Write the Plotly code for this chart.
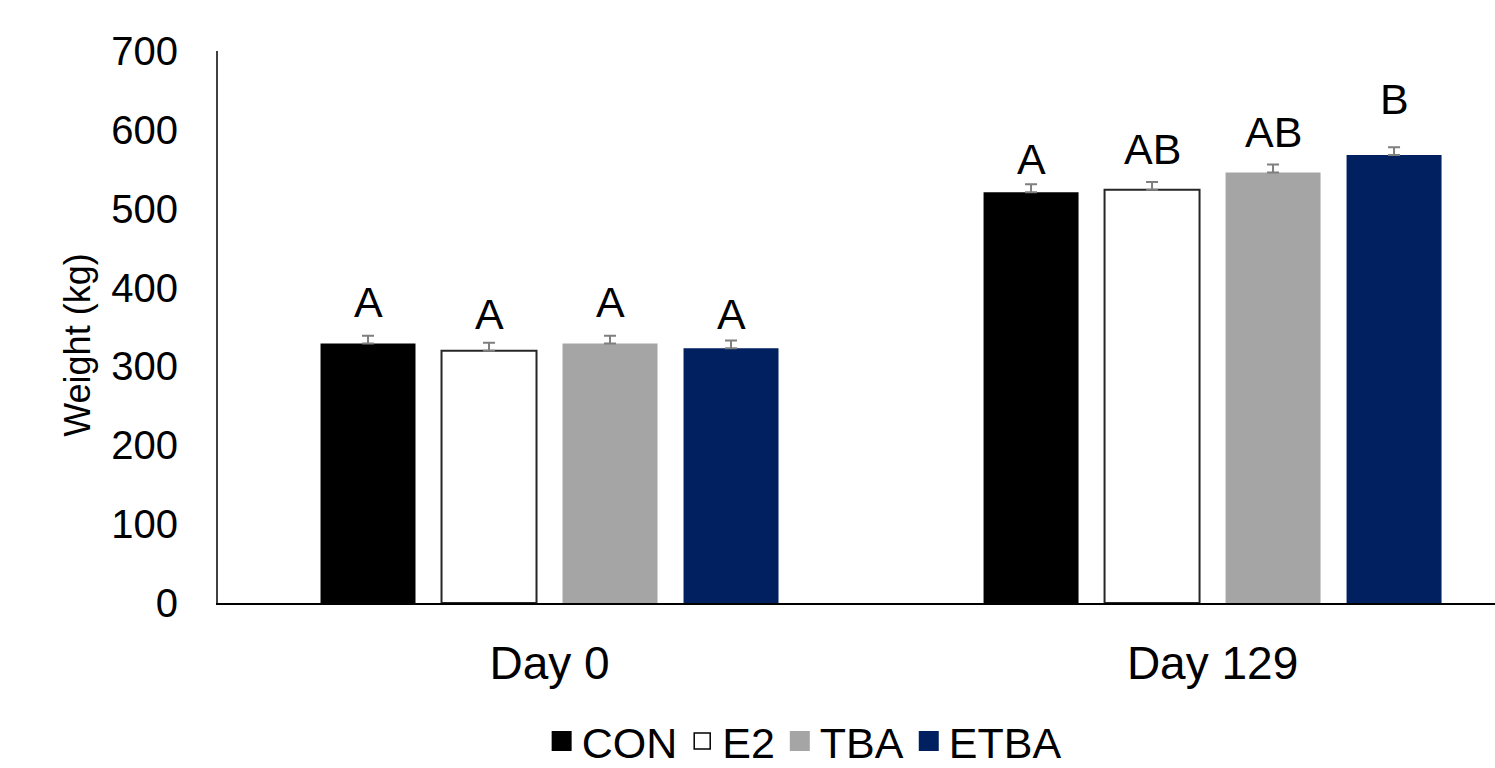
import plotly.graph_objects as go

days = ["Day 0", "Day 129"]
treatments = ["CON", "E2", "TBA", "ETBA"]
weights = {
    "CON": [329, 521],
    "E2": [320, 524],
    "TBA": [329, 546],
    "ETBA": [323, 568],
}
sem = {
    "CON": [10, 10],
    "E2": [10, 10],
    "TBA": [10, 10],
    "ETBA": [10, 10],
}
letters = {
    "CON": ["A", "A"],
    "E2": ["A", "AB"],
    "TBA": ["A", "AB"],
    "ETBA": ["A", "B"],
}
# height (kg) at which each significance letter sits
letter_height = {
    "CON": [358, 539],
    "E2": [343, 552],
    "TBA": [358, 573],
    "ETBA": [343, 615],
}

fill = {"CON": "#000000", "E2": "#ffffff", "TBA": "#a5a5a5", "ETBA": "#002060"}
outline = {"CON": "#000000", "E2": "#262626", "TBA": "#a5a5a5", "ETBA": "#002060"}

FONT = "Liberation Sans, Arial, sans-serif"
BARGAP = 0.27
GROUPGAP = 0.215

xpos = list(range(len(days)))
fig = go.Figure()
for t in treatments:
    fig.add_trace(go.Bar(
        name=t, x=xpos, y=weights[t],
        marker=dict(color=fill[t], line=dict(color=outline[t], width=2 if t == "E2" else 0)),
        error_y=dict(type="data", array=sem[t], arrayminus=[0] * len(days), symmetric=False,
                     color="#7f7f7f", thickness=2, width=6),
        showlegend=False,
    ))
    # legend entry
    fig.add_trace(go.Scatter(
        name=t, x=[None], y=[None], mode="markers",
        marker=dict(symbol="square", size=16, color=fill[t],
                    line=dict(color="#000000" if t == "E2" else fill[t], width=1.5 if t == "E2" else 4)),
    ))

n = len(treatments)
slot = (1 - BARGAP) / n
for i, t in enumerate(treatments):
    for j in range(len(days)):
        fig.add_annotation(
            x=j + (i - (n - 1) / 2) * slot, y=letter_height[t][j],
            text=letters[t][j], showarrow=False, yanchor="bottom", yshift=-7,
            font=dict(family=FONT, size=43, color="#000000"),
        )

fig.add_annotation(
    xref="paper", yref="paper", x=-0.11, y=0.467, xanchor="center", yanchor="middle",
    text="Weight (kg)", textangle=-90, showarrow=False,
    font=dict(family=FONT, size=36, color="#000000"),
)

fig.update_layout(
    width=1495, height=768,
    margin=dict(l=218, r=0, t=51, b=165, autoexpand=False),
    paper_bgcolor="white", plot_bgcolor="white",
    barmode="group", bargap=BARGAP, bargroupgap=GROUPGAP,
    font=dict(family=FONT, color="#000000"),
    legend=dict(orientation="h", x=0.459, xanchor="center", y=-0.250, yanchor="middle",
                font=dict(family=FONT, size=43, color="#000000"), itemclick=False),
    xaxis=dict(
        tickvals=xpos, ticktext=days, range=[-0.5, 1.426],
        showline=True, linecolor="#000000", linewidth=2,
        showgrid=False, zeroline=False, ticks="",
        tickfont=dict(family=FONT, size=46, color="#000000"),
        ticklabelstandoff=19,
    ),
    yaxis=dict(
        range=[0, 700], tickvals=[0, 100, 200, 300, 400, 500, 600, 700],
        showline=True, linecolor="#404040", linewidth=2,
        showgrid=False, zeroline=False, ticks="",
        tickfont=dict(family=FONT, size=40, color="#000000"),
        ticklabelstandoff=30,
    ),
)

fig.write_html("out.html", config={"displayModeBar": False},
               post_script="document.body.style.margin='0';")
